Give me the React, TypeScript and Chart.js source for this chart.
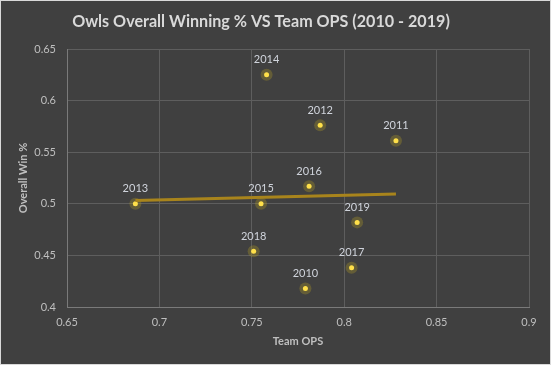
import React, { useEffect, useRef } from "react";
import { Chart, registerables } from "chart.js";

Chart.register(...registerables);

const years = ["2010", "2011", "2012", "2013", "2014", "2015", "2016", "2017", "2018", "2019"];
const teamOps = [0.779, 0.828, 0.787, 0.687, 0.758, 0.755, 0.781, 0.804, 0.751, 0.807];
const winPct = [0.418, 0.561, 0.576, 0.5, 0.625, 0.5, 0.517, 0.438, 0.454, 0.482];
const xTicks = [0.65, 0.7, 0.75, 0.8, 0.85, 0.9];
const yTicks = [0.4, 0.45, 0.5, 0.55, 0.6, 0.65];

const TITLE = "Owls Overall Winning % VS Team OPS (2010 - 2019)";

function regression(xs: number[], ys: number[]) {
  const n = xs.length;
  const mx = xs.reduce((a, b) => a + b, 0) / n;
  const my = ys.reduce((a, b) => a + b, 0) / n;
  let sxy = 0, sxx = 0;
  for (let i = 0; i < n; i++) {
    sxy += (xs[i] - mx) * (ys[i] - my);
    sxx += (xs[i] - mx) * (xs[i] - mx);
  }
  const slope = sxy / sxx;
  return { slope, intercept: my - slope * mx };
}

export default function App() {
  const ref = useRef<HTMLCanvasElement | null>(null);
  useEffect(() => {
    if (!ref.current) return;
    const pts = teamOps.map((x, i) => ({ x, y: winPct[i] }));
    const { slope, intercept } = regression(teamOps, winPct);
    const x0 = Math.min(...teamOps);
    const x1 = Math.max(...teamOps);
    const trend = [
      { x: x0, y: intercept + slope * x0 },
      { x: x1, y: intercept + slope * x1 },
    ];
    const fmt = (v: any) => String(Number(Number(v).toFixed(2)));

    const bgPlugin = {
      id: "bg",
      beforeDraw(chart: any) {
        const c = chart.ctx;
        c.save();
        c.fillStyle = "#404040";
        c.fillRect(0, 0, chart.width, chart.height);
        c.strokeStyle = "#d9d9d9";
        c.lineWidth = 1;
        c.strokeRect(0.5, 0.5, chart.width - 1, chart.height - 1);
        c.restore();
      },
      afterDraw(chart: any) {
        const c = chart.ctx;
        c.save();
        let size = 17;
        c.font = `bold ${size}px Lato`;
        const w = c.measureText(TITLE).width;
        size = size * 378 / w;
        c.font = `bold ${size}px Lato`;
        c.fillStyle = "#d9d9d9";
        c.textAlign = "center";
        c.textBaseline = "middle";
        c.fillText(TITLE, 261, 22);
        c.restore();
      },
    };

    const labelPlugin = {
      id: "labels",
      afterDatasetsDraw(chart: any) {
        const meta = chart.getDatasetMeta(2);
        const c = chart.ctx;
        c.save();
        c.font = "11px Lato";
        c.fillStyle = "#d0d4dc";
        c.textAlign = "center";
        c.textBaseline = "middle";
        meta.data.forEach((el: any, i: number) => {
          c.fillText(years[i], el.x, el.y - 15);
        });
        c.restore();
      },
    };

    const chart = new Chart(ref.current, {
      type: "scatter",
      data: {
        datasets: [
          {
            type: "line",
            data: trend,
            borderColor: "#a8841c",
            borderWidth: 3,
            pointRadius: 0,
            fill: false,
            order: 0,
          } as any,
          {
            data: pts,
            pointRadius: 6,
            pointBackgroundColor: "rgba(170,150,40,0.35)",
            pointBorderWidth: 0,
            order: 2,
          },
          {
            data: pts,
            pointRadius: 2.5,
            pointBackgroundColor: "#ffe04a",
            pointBorderWidth: 0,
            order: 1,
          },
        ],
      },
      options: {
        animation: false,
        responsive: false,
        layout: { padding: { top: 49, right: 22, bottom: 0, left: 0 } },
        plugins: {
          legend: { display: false },
          title: { display: false },
          tooltip: { enabled: false },
        },
        scales: {
          x: {
            type: "linear",
            min: 0.65,
            max: 0.9,
            afterBuildTicks: (s: any) => {
              s.ticks = xTicks.map((v) => ({ value: v }));
            },
            afterFit: (s: any) => {
              s.height = 58;
            },
            grid: { color: "#5e5e5e", drawTicks: false, lineWidth: 1 },
            border: { color: "#7a7a7a" },
            ticks: {
              color: "#bfbfbf",
              font: { family: "Lato", size: 11 },
              padding: 9,
              callback: fmt,
              maxRotation: 0,
            },
            title: {
              display: true,
              text: "Team OPS",
              color: "#bfbfbf",
              font: { family: "Lato", size: 11, weight: "bold" },
              padding: { top: 0, bottom: 17 },
            },
          },
          y: {
            type: "linear",
            min: 0.4,
            max: 0.65,
            afterBuildTicks: (s: any) => {
              s.ticks = yTicks.map((v) => ({ value: v }));
            },
            afterFit: (s: any) => {
              s.width = 67;
            },
            grid: { color: "#5e5e5e", drawTicks: false, lineWidth: 1 },
            border: { color: "#7a7a7a" },
            ticks: {
              color: "#bfbfbf",
              font: { family: "Lato", size: 11 },
              padding: 11,
              callback: fmt,
            },
            title: {
              display: true,
              text: "Overall Win %",
              color: "#bfbfbf",
              font: { family: "Lato", size: 11, weight: "bold" },
              padding: { top: 17, bottom: 0 },
            },
          },
        },
      },
      plugins: [bgPlugin, labelPlugin],
    } as any);
    return () => chart.destroy();
  }, []);

  return (
    <div style={{ position: "fixed", left: 0, top: 0, width: 551, height: 365 }}>
      <canvas ref={ref} width={551} height={365} style={{ width: 551, height: 365, display: "block" }} />
    </div>
  );
}
